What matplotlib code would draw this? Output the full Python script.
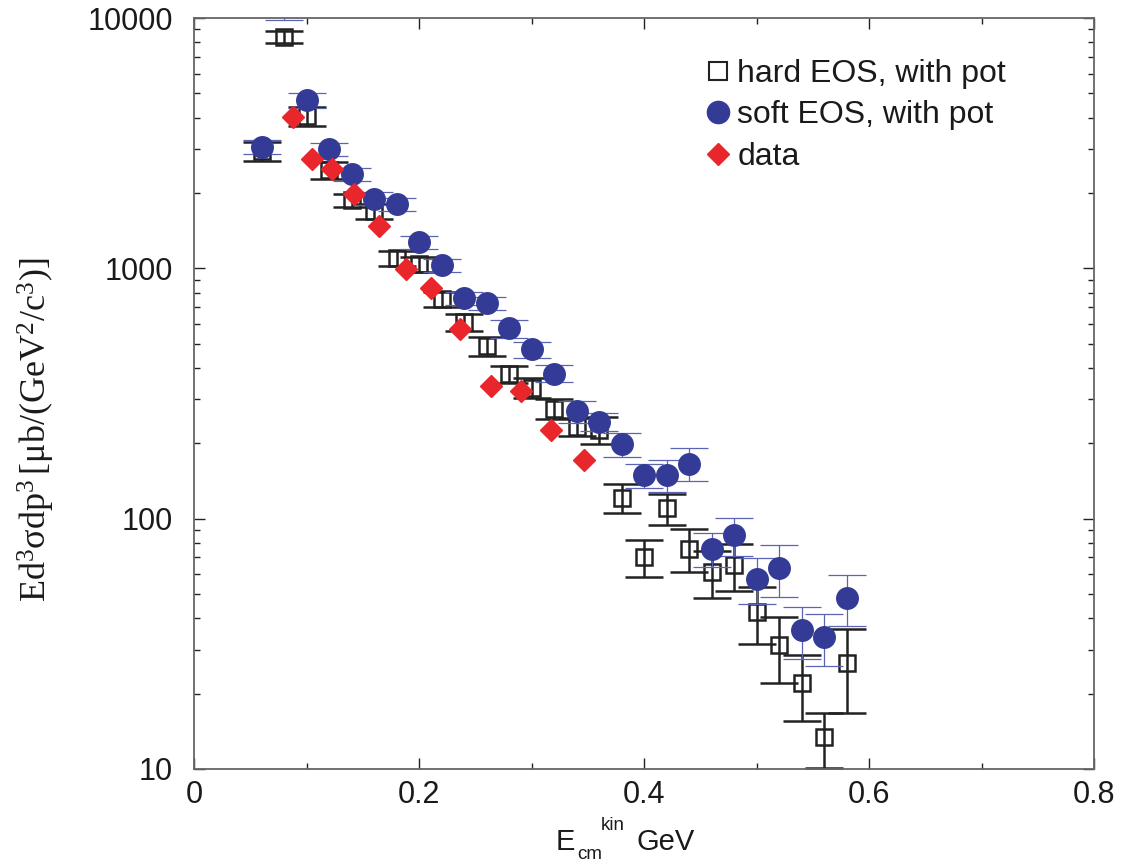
import matplotlib
matplotlib.use("Agg")
import matplotlib.pyplot as plt
from matplotlib.lines import Line2D
from matplotlib.ticker import FixedLocator, LogLocator, NullFormatter, MultipleLocator

plt.rcParams['font.family'] = ['Liberation Sans', 'DejaVu Sans']
plt.rcParams['mathtext.fontset'] = 'custom'
plt.rcParams['mathtext.rm'] = 'Liberation Serif'
plt.rcParams['mathtext.it'] = 'Liberation Serif:italic'

# model points (hard / soft EOS), same energy grid
e_model = [0.06, 0.08, 0.10, 0.12, 0.14, 0.16, 0.18, 0.20, 0.22, 0.24, 0.26, 0.28, 0.30,
           0.32, 0.34, 0.36, 0.38, 0.40, 0.42, 0.44, 0.46, 0.48, 0.50, 0.52, 0.54, 0.56, 0.58]
hard = [2940, 8400, 4060, 2470, 1870, 1690, 1100, 1040, 752, 608, 488, 377, 334,
        275, 233, 227, 121, 70.5, 110, 76, 61.4, 65.5, 42.5, 31.3, 22.1, 13.4, 26.5]
hard_err = [260, 450, 340, 190, 105, 120, 75, 70, 52, 48, 43, 30, 30,
            26, 20, 28, 16, 12, 16, 15, 13, 14, 11, 9.3, 6.5, 3.3, 9.8]
soft = [3050, 11500, 4700, 2990, 2380, 1900, 1800, 1270, 1030, 760, 724, 575, 474,
        380, 268, 244, 198, 149, 150, 166, 76, 86, 57.5, 63.7, 36, 33.7, 48.3]
soft_err = [200, 1650, 310, 170, 140, 110, 105, 73, 62, 45, 42, 46, 36,
            30, 27, 21, 22, 16, 22, 25, 12, 15, 12, 15, 8.5, 8, 11]

# measured data
e_data = [0.088, 0.105, 0.123, 0.142, 0.164, 0.188, 0.211, 0.236, 0.264, 0.291, 0.317, 0.347]
y_data = [4020, 2730, 2490, 1980, 1470, 990, 832, 570, 340, 325, 227, 172]

labels = ['hard EOS, with pot', 'soft EOS, with pot', 'data']
xticks = [0, 0.2, 0.4, 0.6, 0.8]
xticklabels = ['0', '0.2', '0.4', '0.6', '0.8']
yticks = [10, 100, 1000, 10000]
yticklabels = ['10', '100', '1000', '10000']

blue = '#333b97'
blue_err = '#5a64b2'
red = '#e8262c'

W, H = 1134, 867
fig = plt.figure(figsize=(W / 100, H / 100), dpi=100)
ax = fig.add_axes([194 / W, 1 - 769 / H, 900 / W, 751 / H])


def px(x, y):
    return x / W, 1 - y / H


ax.errorbar(e_model, hard, yerr=hard_err, fmt='s', ms=12, mfc='none', mec='#222222',
            mew=1.8, ecolor='#222222', elinewidth=1.8, capsize=14, capthick=1.8, zorder=2)
ax.errorbar(e_model, soft, yerr=soft_err, fmt='o', ms=15.5, mfc=blue, mec=blue,
            ecolor=blue_err, elinewidth=0.9, capsize=14, capthick=0.9, zorder=3)
ax.plot(e_data, y_data, 'D', ms=11, color=red, mec=red, zorder=4, lw=0)

ax.set_yscale('log')
ax.set_xlim(0, 0.8)
ax.set_ylim(10, 10000)

ax.xaxis.set_major_locator(FixedLocator(xticks))
ax.set_xticklabels(xticklabels)
ax.xaxis.set_minor_locator(MultipleLocator(0.1))
ax.yaxis.set_major_locator(FixedLocator(yticks))
ax.set_yticklabels(yticklabels)
ax.yaxis.set_minor_locator(LogLocator(base=10, subs=range(2, 10)))
ax.yaxis.set_minor_formatter(NullFormatter())

ax.tick_params(which='both', direction='in', top=True, right=True, colors='#222222',
               width=1.0)
ax.tick_params(which='major', length=8, labelsize=22, labelcolor='#1a1a1a')
ax.tick_params(which='minor', length=4.3)
ax.tick_params(axis='y', which='major', pad=15)
ax.tick_params(axis='x', which='major', pad=8)
for s in ax.spines.values():
    s.set_color('#666666')
    s.set_linewidth(1.3)

handles = [
    Line2D([], [], ls='', marker='s', ms=13, mfc='none', mec='#222222', mew=1.5),
    Line2D([], [], ls='', marker='o', ms=16, mfc=blue, mec=blue),
    Line2D([], [], ls='', marker='D', ms=11, color=red),
]
ax.legend(handles, labels, loc='upper left', bbox_to_anchor=((702 - 194) / 900, 1 - (59 - 18) / 751),
          frameon=False, fontsize=23, handletextpad=0.1, labelspacing=0.36,
          borderpad=0, borderaxespad=0, handlelength=1.0, labelcolor='#1a1a1a')

# x label, built from pieces
fig.text(*px(556, 850), 'E', fontsize=21, va='baseline', ha='left', color='#1a1a1a')
fig.text(*px(577, 859), 'cm', fontsize=13.5, va='baseline', ha='left', color='#1a1a1a')
fig.text(*px(601, 830), 'kin', fontsize=13.5, va='baseline', ha='left', color='#1a1a1a')
fig.text(*px(636, 850), 'GeV', fontsize=21, va='baseline', ha='left', color='#1a1a1a')

# y label
fig.text(*px(36, 430), r'$\mathrm{Ed^{3}\sigma dp^{3}\,[\mu b/(GeV^{2}/c^{3})]}$',
         rotation=90, fontsize=26, ha='center', va='center', color='#1a1a1a')

fig.savefig('out.png', dpi=100)
